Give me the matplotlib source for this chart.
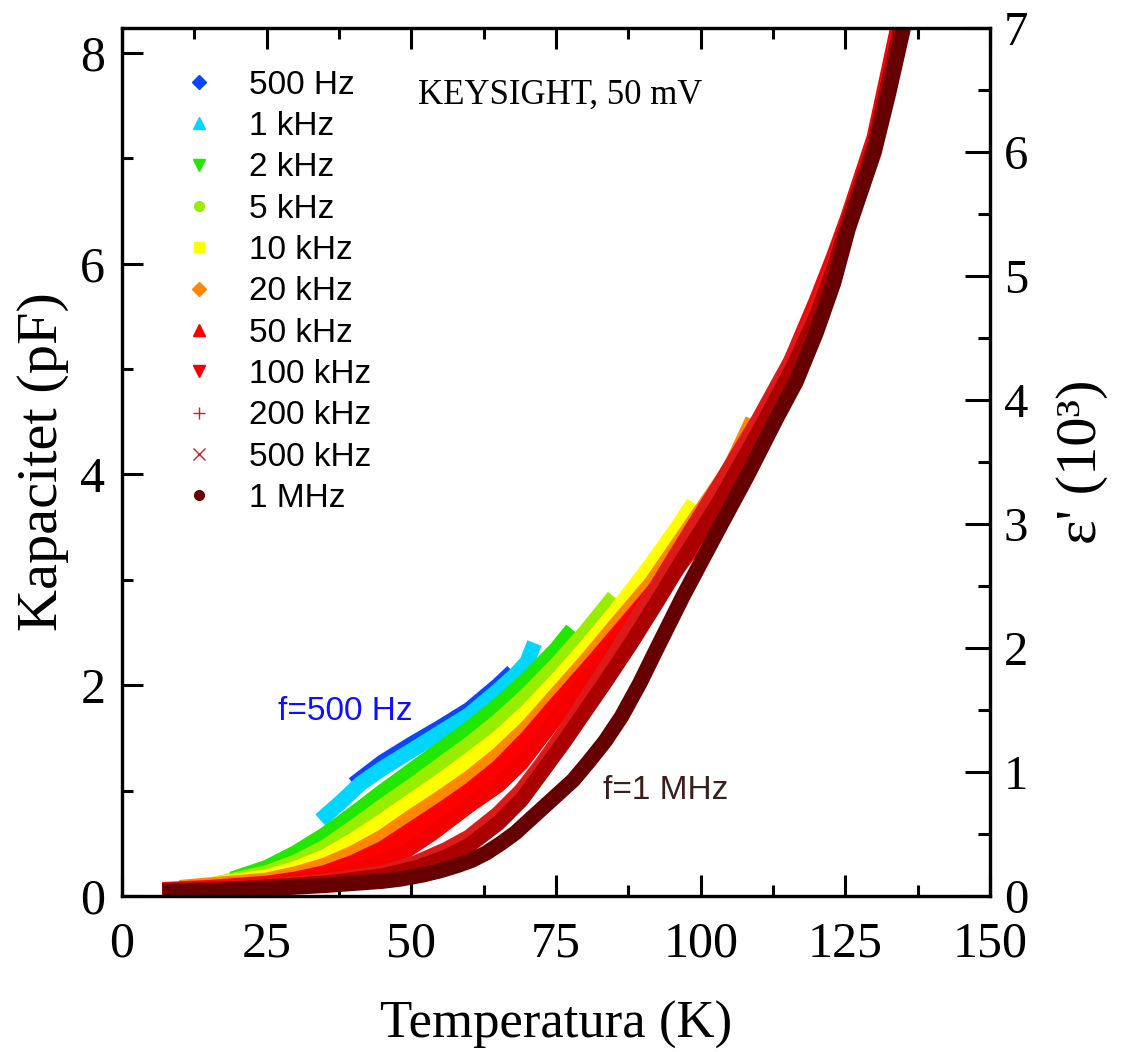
import matplotlib
matplotlib.use("Agg")
import matplotlib.pyplot as plt
from matplotlib.lines import Line2D
from matplotlib.ticker import MultipleLocator

plt.rcParams['font.family'] = ['Liberation Serif', 'DejaVu Serif']

# temperature (K) and capacitance (pF)
t_500hz = [40, 45, 50, 55, 60, 65, 67.5]
c_500hz = [1.06, 1.27, 1.44, 1.60, 1.77, 2.00, 2.13]

t_1khz = [34.3, 38, 41.3, 45, 50, 55, 60, 65, 68, 70, 71.3]
c_1khz = [0.72, 0.90, 1.07, 1.21, 1.38, 1.55, 1.72, 1.95, 2.10, 2.22, 2.40]

t_2khz = [19, 25, 30, 35, 40, 45, 50, 55, 60, 65, 70, 75, 77.8]
c_2khz = [0.16, 0.27, 0.41, 0.58, 0.78, 0.99, 1.19, 1.39, 1.59, 1.81, 2.06, 2.34, 2.53]

t_5khz = [16, 25, 30, 35, 40, 45, 50, 55, 60, 65, 70, 75, 80, 85]
c_5khz = [0.11, 0.22, 0.32, 0.46, 0.65, 0.85, 1.04, 1.24, 1.44, 1.66, 1.91, 2.19, 2.50, 2.84]

t_10khz = [13, 25, 30, 35, 40, 45, 50, 55, 60, 65, 70, 75, 80, 85, 91.5, 96, 98.8]
c_10khz = [0.09, 0.18, 0.26, 0.37, 0.53, 0.71, 0.90, 1.09, 1.29, 1.50, 1.75, 2.04, 2.35, 2.68,
           3.15, 3.50, 3.73]

t_20khz = [10, 25, 30, 35, 40, 45, 50, 55, 60, 65, 70, 75, 80, 85, 91.5, 95, 100, 105, 109]
c_20khz = [0.08, 0.15, 0.21, 0.29, 0.41, 0.56, 0.75, 0.93, 1.12, 1.34, 1.60, 1.91, 2.22, 2.55,
           2.97, 3.25, 3.65, 4.05, 4.52]

t_50khz = [7, 15, 25, 30, 35, 40, 45, 50, 55, 60, 65, 70, 75, 80, 85, 91.5, 100, 105, 110.5,
           115, 120, 123, 125.5, 130, 134.3]
c_50khz = [0.06, 0.08, 0.12, 0.16, 0.22, 0.32, 0.45, 0.63, 0.81, 1.00, 1.22, 1.50, 1.82, 2.13,
           2.45, 2.87, 3.45, 3.92, 4.48, 5.00, 5.65, 6.07, 6.45, 7.20, 8.30]

t_100khz = [7, 20, 30, 40, 48, 53.5, 60, 65, 69, 75, 80.6, 86, 92, 100, 110, 116, 120, 123,
            125.5, 130, 134.4]
c_100khz = [0.05, 0.08, 0.13, 0.23, 0.39, 0.59, 0.86, 1.05, 1.26, 1.69, 2.10, 2.42, 2.82, 3.40,
            4.35, 5.05, 5.60, 6.03, 6.43, 7.17, 8.30]

t_200khz = [7, 20, 35, 45, 51, 56, 60, 65, 69, 72.5, 76.5, 80, 84, 88, 92, 97, 103, 110, 116,
            120, 123, 125.5, 130, 134.6]
c_200khz = [0.05, 0.08, 0.14, 0.22, 0.32, 0.44, 0.56, 0.78, 1.00, 1.25, 1.56, 1.86, 2.20, 2.55,
            2.90, 3.35, 3.88, 4.52, 5.12, 5.58, 6.00, 6.42, 7.15, 8.30]

t_500khz = [7, 20, 35, 45, 51, 56, 60, 65, 69, 72.5, 76.5, 80, 83.4, 88, 92, 97, 103, 110, 116,
            120, 123, 125.5, 130, 134.8]
c_500khz = [0.05, 0.07, 0.12, 0.19, 0.27, 0.37, 0.48, 0.69, 0.91, 1.17, 1.47, 1.75, 2.02, 2.40,
            2.75, 3.20, 3.72, 4.40, 5.02, 5.50, 5.95, 6.40, 7.12, 8.30]

t_1mhz = [7, 15, 25, 35, 40, 45, 48, 52, 55, 58, 60.5, 63, 65.5, 68, 70.8, 75, 78, 80.6, 83.5,
          86.3, 89.5, 92, 97, 103, 108, 113, 116.5, 120, 123, 125.5, 130, 132.5, 135.3]
c_1mhz = [0.04, 0.05, 0.07, 0.10, 0.12, 0.14, 0.16, 0.20, 0.24, 0.29, 0.34, 0.41, 0.50, 0.60,
          0.74, 0.95, 1.10, 1.27, 1.47, 1.70, 2.02, 2.30, 2.85, 3.47, 3.98, 4.52, 4.88, 5.35,
          5.82, 6.33, 7.06, 7.62, 8.30]

labels = ['500 Hz', '1 kHz', '2 kHz', '5 kHz', '10 kHz', '20 kHz', '50 kHz', '100 kHz',
          '200 kHz', '500 kHz', '1 MHz']
temps = [t_500hz, t_1khz, t_2khz, t_5khz, t_10khz, t_20khz, t_50khz, t_100khz, t_200khz,
         t_500khz, t_1mhz]
caps = [c_500hz, c_1khz, c_2khz, c_5khz, c_10khz, c_20khz, c_50khz, c_100khz, c_200khz,
        c_500khz, c_1mhz]
colors = ['#0a46ff', '#00d6ff', '#22e800', '#99ee00', '#ffff00', '#ff8800', '#ff0000',
          '#f40000', '#dd1a1a', '#aa0000', '#660000']
markers = ['D', '^', 'v', 'o', 's', 'D', '^', 'v', '+', 'x', 'o']

fig = plt.figure(figsize=(11.21, 10.52), dpi=100)
ax = fig.add_axes([0.1088, 0.1483, 0.7743, 0.8251])

for t, c, col in zip(temps, caps, colors):
    ax.plot(t, c, color=col, lw=11, solid_capstyle='butt', solid_joinstyle='round')

ax.set_xlim(0, 150)
ax.set_ylim(0, 8.237)
ax.xaxis.set_major_locator(MultipleLocator(25))
ax.xaxis.set_minor_locator(MultipleLocator(12.5))
ax.yaxis.set_major_locator(MultipleLocator(2))
ax.yaxis.set_minor_locator(MultipleLocator(1))
ax.tick_params(which='both', direction='in', top=True, right=False, width=2.2, labelsize=36)
ax.tick_params(which='major', length=15)
ax.tick_params(which='minor', length=8)
ax.tick_params(axis='x', pad=18)
ax.tick_params(axis='y', pad=12)
for s in ax.spines.values():
    s.set_linewidth(2.3)

ax.set_xlabel('Temperatura (K)', fontsize=38, labelpad=24)
ax.set_ylabel('Kapacitet (pF)', fontsize=42, labelpad=8)

ax2 = ax.twinx()
ax2.set_ylim(0, 7)
ax2.yaxis.set_major_locator(MultipleLocator(1))
ax2.yaxis.set_minor_locator(MultipleLocator(0.5))
ax2.tick_params(which='both', direction='in', width=2.2, labelsize=35, pad=10)
ax2.tick_params(which='major', length=18)
ax2.tick_params(which='minor', length=9)
for s in ax2.spines.values():
    s.set_linewidth(2.3)
ax2.set_ylabel("ε' (10³)", fontsize=42, labelpad=20)

handles = []
for lab, col, mk in zip(labels, colors, markers):
    ms = 7 if mk in ('D', 'o', 's') else 9
    ec = col
    if mk == 'x':
        col = ec = '#bb2a2a'
    handles.append(Line2D([], [], ls='none', marker=mk, color=col, markeredgecolor=ec,
                          markersize=ms, markeredgewidth=1.0, label=lab))
ax.legend(handles=handles, loc='upper left', bbox_to_anchor=(0.070, 0.952), frameon=False,
          prop={'family': ['Liberation Sans'], 'size': 24}, handlelength=1.0,
          handletextpad=1.0, labelspacing=0.31, borderpad=0, borderaxespad=0)

ax.text(51.2, 7.60, 'KEYSIGHT, 50 mV', fontsize=25, ha='left', va='center')
ax.text(27.0, 1.75, 'f=500 Hz', fontsize=24, color='#1010ff', ha='left', va='center',
        family=['Liberation Sans'])
ax.text(83.1, 1.0, 'f=1 MHz', fontsize=24, color='#3a1f1f', ha='left', va='center',
        family=['Liberation Sans'])

fig.savefig('out.png', dpi=100)
